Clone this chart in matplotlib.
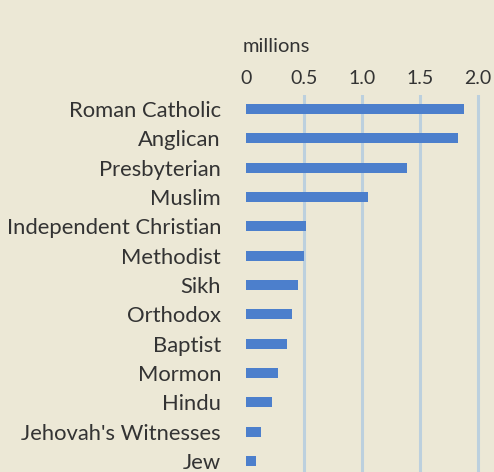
import matplotlib
matplotlib.use("Agg")
import matplotlib.pyplot as plt

# data (millions)
religions = ["Roman Catholic", "Anglican", "Presbyterian", "Muslim",
             "Independent Christian", "Methodist", "Sikh", "Orthodox",
             "Baptist", "Mormon", "Hindu", "Jehovah's Witnesses", "Jew"]
members = [1.88, 1.83, 1.39, 1.05, 0.52, 0.50, 0.45, 0.40,
           0.35, 0.28, 0.22, 0.13, 0.09]
tick_vals = [0, 0.5, 1.0, 1.5, 2.0]
tick_labels = ["0", "0.5", "1.0", "1.5", "2.0"]

bg = "#ece8d6"
plt.rcParams['font.family'] = ['Lato', 'DejaVu Sans']

fig = plt.figure(figsize=(4.94, 4.72), dpi=100, facecolor=bg)
ax = fig.add_axes([246 / 494, 0, (489.6 - 246) / 494, 1 - 95 / 472])
ax.set_facecolor(bg)

y = list(range(len(religions)))
ax.barh(y, members, height=0.34, color="#4c7fcc", zorder=2)

# gridlines
for v in tick_vals[1:]:
    ax.axvline(v, color="#bcd0de", lw=2.2, zorder=1)

ax.set_xlim(0, 2.1)
ax.set_ylim(12.375, -0.48)

ax.xaxis.tick_top()
ax.set_xticks(tick_vals)
ax.set_xticklabels(tick_labels, fontsize=14, color="#333333")
ax.tick_params(axis="x", length=0, pad=6)
ax.set_yticks(y)
ax.set_yticklabels(religions, fontsize=15.8, color="#333333")
ax.tick_params(axis="y", length=0, pad=18)

for s in ax.spines.values():
    s.set_visible(False)

fig.text(243 / 494, 1 - 46 / 472, "millions", fontsize=14.5, color="#333333",
         ha="left", va="center")

fig.savefig("out.png", dpi=100, facecolor=bg)
